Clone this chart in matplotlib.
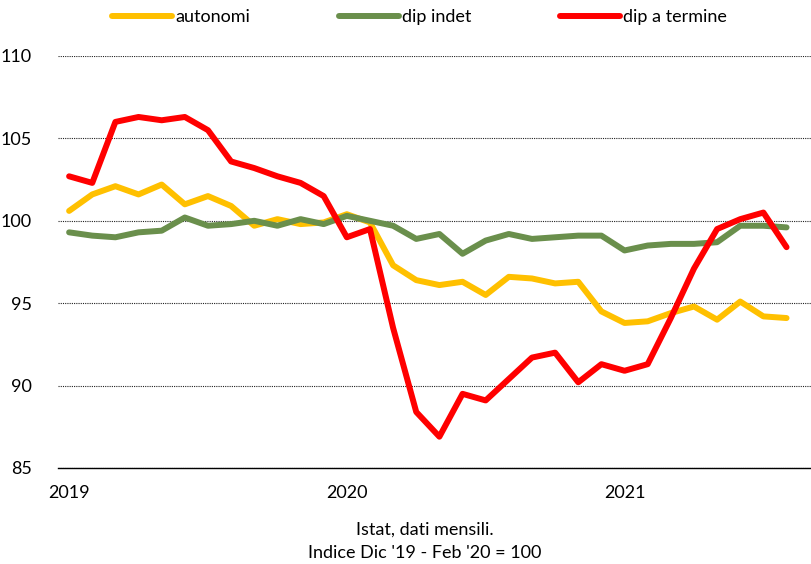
import numpy as np
import matplotlib
matplotlib.use("Agg")
import matplotlib.pyplot as plt

plt.rcParams["font.family"] = ["Lato", "DejaVu Sans"]

# Monthly data, Jan 2019 - Aug 2021
months = list(range(32))
autonomi = [100.6, 101.6, 102.1, 101.6, 102.2, 101.0, 101.5, 100.9, 99.7, 100.1, 99.8, 99.9,
            100.4, 99.9, 97.3, 96.4, 96.1, 96.3, 95.5, 96.6, 96.5, 96.2, 96.3, 94.5,
            93.8, 93.9, 94.4, 94.8, 94.0, 95.1, 94.2, 94.1]
dip_indet = [99.3, 99.1, 99.0, 99.3, 99.4, 100.2, 99.7, 99.8, 100.0, 99.7, 100.1, 99.8,
             100.3, 100.0, 99.7, 98.9, 99.2, 98.0, 98.8, 99.2, 98.9, 99.0, 99.1, 99.1,
             98.2, 98.5, 98.6, 98.6, 98.7, 99.7, 99.7, 99.6]
dip_termine = [102.7, 102.3, 106.0, 106.3, 106.1, 106.3, 105.5, 103.6, 103.2, 102.7, 102.3, 101.5,
               99.0, 99.5, 93.5, 88.4, 86.9, 89.5, 89.1, 90.4, 91.7, 92.0, 90.2, 91.3,
               90.9, 91.3, 94.1, 97.1, 99.5, 100.1, 100.5, 98.4]
year_ticks = [0, 12, 24]
year_labels = ["2019", "2020", "2021"]

fig = plt.figure(figsize=(8.12, 5.64), dpi=100)
ax = fig.add_axes([58 / 812, 1 - 468 / 564, 1 - 58 / 812, (468 - 56) / 564])

lw = 4.3
ax.plot(months, autonomi, color="#FFC000", lw=lw, solid_capstyle="round", solid_joinstyle="round",
        label="autonomi", zorder=3)
ax.plot(months, dip_indet, color="#6A8F4C", lw=lw, solid_capstyle="round", solid_joinstyle="round",
        label="dip indet", zorder=3)
ax.plot(months, dip_termine, color="#FF0000", lw=lw, solid_capstyle="round", solid_joinstyle="round",
        label="dip a termine", zorder=4)

ax.set_ylim(85, 110)
ax.set_xlim(-0.48, 32.1)
ax.set_yticks([85, 90, 95, 100, 105, 110])
ax.set_xticks(year_ticks)
ax.set_xticklabels(year_labels)
ax.grid(axis="y", color="#222222", linestyle=(0, (1, 1)), linewidth=0.8)
ax.grid(axis="x", visible=False)
for s in ["top", "right", "left"]:
    ax.spines[s].set_visible(False)
ax.spines["bottom"].set_linewidth(1.0)
ax.tick_params(axis="both", length=0, labelsize=13)
ax.tick_params(axis="y", pad=19)
ax.tick_params(axis="x", pad=12)
ax.set_axisbelow(True)

fig.legend(loc="center", bbox_to_anchor=(0.517, 1 - 17 / 564), ncol=3, frameon=False,
           fontsize=13, handlelength=3.3, handletextpad=0.2, columnspacing=4.9)

fig.text(0.523, 1 - 530 / 564, "Istat, dati mensili.", ha="center", va="center", fontsize=13)
fig.text(0.523, 1 - 553 / 564, "Indice Dic '19 - Feb '20 = 100", ha="center", va="center", fontsize=13)

fig.savefig("out.png", dpi=100)
